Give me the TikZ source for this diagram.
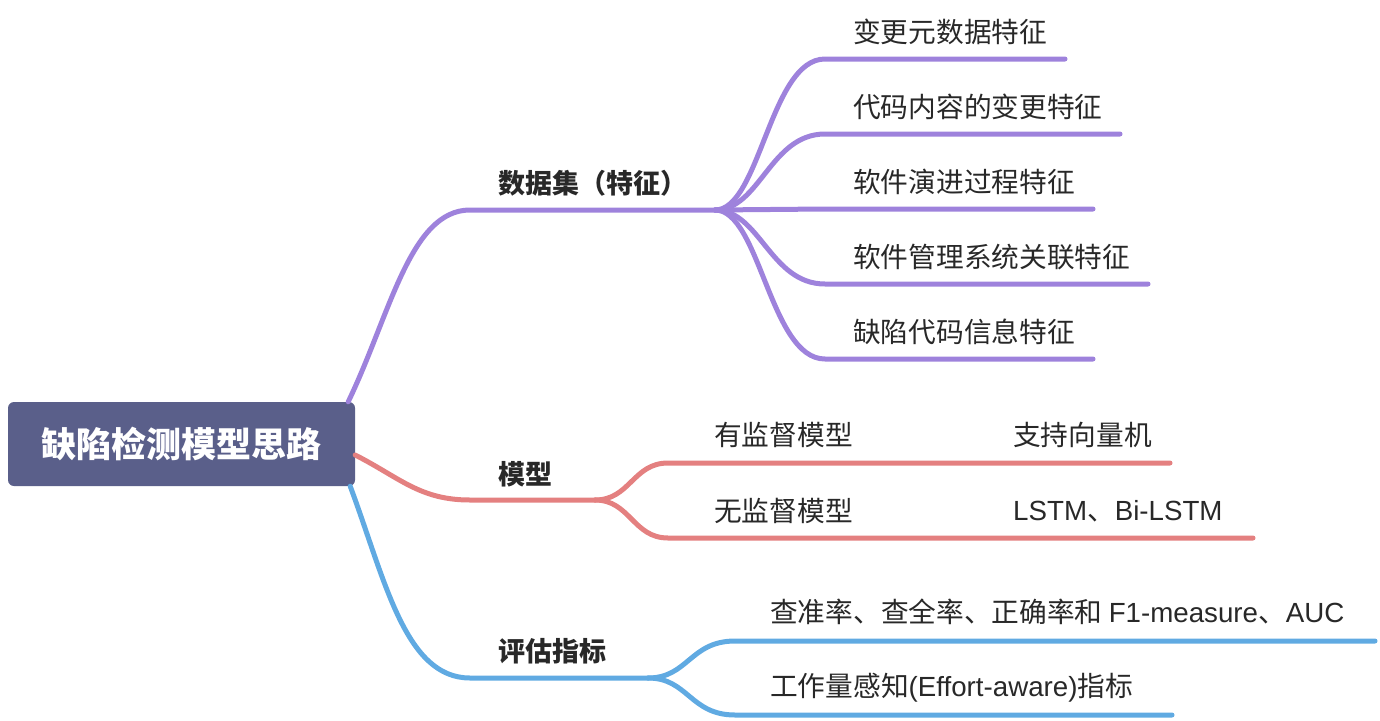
\documentclass[tikz,border=0pt]{standalone}
\usepackage{fontspec}
\setmainfont{Noto Sans CJK SC}
\newfontfamily\latinfont{Liberation Sans}
\definecolor{rootfill}{RGB}{90,95,138}
\definecolor{dsjline}{RGB}{158,130,220}
\definecolor{mxline}{RGB}{228,128,128}
\definecolor{pgline}{RGB}{96,170,226}
\definecolor{labeltext}{RGB}{40,40,40}

\begin{document}
\begin{tikzpicture}[x=1pt,y=-1pt,rootbox/.style={rectangle,rounded corners=6pt,fill=rootfill,text=white,minimum width=347pt,minimum height=84pt,inner sep=0pt,font=\fontsize{35}{40}\selectfont\bfseries},topic/.style={anchor=west,inner sep=0pt,text=labeltext,font=\fontsize{27.7}{32}\selectfont},maintopic/.style={topic,font=\fontsize{27}{32}\selectfont\bfseries},branch/.style={line width=5pt,line cap=round}]
\useasboundingbox (0,0) rectangle (1380,720);
\coordinate (sjj-start) at (470,210);
\coordinate (sjj-fork) at (715,210);
\coordinate (mx-start) at (470,500);
\coordinate (mx-fork) at (595,500);
\coordinate (pg-start) at (470,678);
\coordinate (pg-fork) at (648,678);
\coordinate (a1-start) at (825,59);
\coordinate (a1-end) at (1065,59);
\coordinate (a2-start) at (825,134);
\coordinate (a2-end) at (1120,134);
\coordinate (a3-start) at (825,209);
\coordinate (a3-end) at (1093,209);
\coordinate (a4-start) at (825,284);
\coordinate (a4-end) at (1148,284);
\coordinate (a5-start) at (825,359);
\coordinate (a5-end) at (1093,359);
\coordinate (b1-start) at (668,463);
\coordinate (b1-end) at (1170,463);
\coordinate (b2-start) at (668,538);
\coordinate (b2-end) at (1253,538);
\coordinate (c1-start) at (735,641);
\coordinate (c1-end) at (1375,641);
\coordinate (c2-start) at (735,715);
\coordinate (c2-end) at (1172,715);
\node[rootbox] (root) at (181.5,444) {缺陷检测模型思路};
\draw[branch,dsjline] ([xshift=-7pt]root.north east) .. controls +(42,-87) and +(-60,0) .. (sjj-start) -- (sjj-fork);
\draw[branch,mxline] ([yshift=-11pt]root.east) .. controls +(45,23) and +(-50,0) .. (mx-start) -- (mx-fork);
\draw[branch,pgline] ([xshift=-5pt]root.south east) .. controls +(35,94) and +(-65,0) .. (pg-start) -- (pg-fork);
\draw[branch,dsjline] (sjj-fork) .. controls +(45,0) and +(-55,0) .. (a1-start) -- (a1-end);
\draw[branch,dsjline] (sjj-fork) .. controls +(45,0) and +(-55,0) .. (a2-start) -- (a2-end);
\draw[branch,dsjline] (sjj-fork) -- (a3-start) -- (a3-end);
\draw[branch,dsjline] (sjj-fork) .. controls +(45,0) and +(-55,0) .. (a4-start) -- (a4-end);
\draw[branch,dsjline] (sjj-fork) .. controls +(45,0) and +(-55,0) .. (a5-start) -- (a5-end);
\draw[branch,mxline] (mx-fork) .. controls +(35,0) and +(-35,0) .. (b1-start) -- (b1-end);
\draw[branch,mxline] (mx-fork) .. controls +(35,0) and +(-35,0) .. (b2-start) -- (b2-end);
\draw[branch,pgline] (pg-fork) .. controls +(40,0) and +(-45,0) .. (c1-start) -- (c1-end);
\draw[branch,pgline] (pg-fork) .. controls +(40,0) and +(-45,0) .. (c2-start) -- (c2-end);
\node[maintopic] (sjj) at (498,183) {数据集（特征）};
\node[maintopic] (mx) at (498,474) {模型};
\node[maintopic] (pg) at (498,651) {评估指标};
\node[topic] (a1) at (853,32) {变更元数据特征};
\node[topic] (a2) at (853,107) {代码内容的变更特征};
\node[topic] (a3) at (853,182) {软件演进过程特征};
\node[topic] (a4) at (853,257) {软件管理系统关联特征};
\node[topic] (a5) at (853,332) {缺陷代码信息特征};
\node[topic] (b1) at (714,435) {有监督模型};
\node[topic] (b1x) at (1013,435) {支持向量机};
\node[topic] (b2) at (714,511) {无监督模型};
\node[topic] (b2x) at (1013,511) {{\latinfont LSTM}、{\latinfont Bi-LSTM}};
\node[topic] (c1) at (770,612) {查准率、查全率、正确率和 {\latinfont F1-measure}、{\latinfont AUC}};
\node[topic] (c2) at (770,688) {工作量感知{\latinfont (Effort-aware)}指标};
\end{tikzpicture}
\end{document}
